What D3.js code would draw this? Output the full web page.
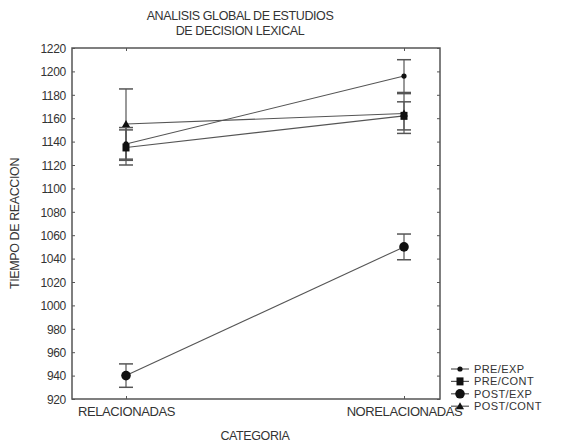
<!DOCTYPE html>
<html><head><meta charset="utf-8">
<script src="https://cdn.jsdelivr.net/npm/d3@7"></script>
<style>body{margin:0;background:#fff}</style>
</head><body>
<script>
const categories = ["RELACIONADAS", "NORELACIONADAS"];
const seriesNames = ["PRE/EXP", "PRE/CONT", "POST/EXP", "POST/CONT"];
const preExp   = [1138, 1196];
const preCont  = [1135, 1162];
const postExp  = [940, 1050];
const postCont = [1155, 1164];
const preExpErr   = [14, 14];
const preContErr  = [15, 12];
const postExpErr  = [10, 11];
const postContErr = [30, 17];
const yTicks = [920,940,960,980,1000,1020,1040,1060,1080,1100,1120,1140,1160,1180,1200,1220];
const titleLines = ["ANALISIS GLOBAL DE ESTUDIOS", "DE DECISION LEXICAL"];
const xTitle = "CATEGORIA";
const yTitle = "TIEMPO DE REACCION";

const series = [
  {name: seriesNames[0], values: preExp, err: preExpErr, marker: "smallcircle"},
  {name: seriesNames[1], values: preCont, err: preContErr, marker: "square"},
  {name: seriesNames[2], values: postExp, err: postExpErr, marker: "bigcircle"},
  {name: seriesNames[3], values: postCont, err: postContErr, marker: "triangle"}
];

const W = 576, H = 446;
const m = {left: 72, right: 440, top: 48, bottom: 399};
const FONT = "'Liberation Sans', Arial, sans-serif";
const svg = d3.select("body").append("svg").attr("width", W).attr("height", H)
  .style("font-family", FONT);

const x = d3.scalePoint().domain(categories).range([126, 404]);
const y = d3.scaleLinear().domain([920, 1220]).range([m.bottom, m.top]);

const axisColor = "#555", textColor = "#333", lineColor = "#555";

// frame
svg.append("rect").attr("x", m.left).attr("y", m.top).attr("width", m.right - m.left)
  .attr("height", m.bottom - m.top).attr("fill", "none").attr("stroke", axisColor).attr("stroke-width", 1.5);

// axes
const gl = svg.append("g").attr("transform", `translate(${m.left},0)`)
  .call(d3.axisLeft(y).tickValues(yTicks).tickSize(-3).tickPadding(6).tickFormat(d3.format("d")));
const gr = svg.append("g").attr("transform", `translate(${m.right},0)`)
  .call(d3.axisRight(y).tickValues(yTicks).tickSize(-3).tickFormat(""));
const gb = svg.append("g").attr("transform", `translate(0,${m.bottom})`)
  .call(d3.axisBottom(x).tickSize(-3).tickPadding(8));
const gt = svg.append("g").attr("transform", `translate(0,${m.top})`)
  .call(d3.axisTop(x).tickSize(-3).tickFormat(""));
[gl, gr, gb, gt].forEach(g => {
  g.select(".domain").remove();
  g.selectAll(".tick line").attr("stroke", axisColor);
  g.selectAll("text").attr("fill", textColor).attr("font-family", FONT);
});
gl.selectAll("text").attr("font-size", 12).attr("letter-spacing", "-0.3px").attr("dy", "0.35em");
gb.selectAll("text").attr("font-size", 13).attr("letter-spacing", "-0.4px");

// lines
const line = d3.line().x((d, i) => x(categories[i])).y(d => y(d));
series.forEach(s => {
  svg.append("path").datum(s.values).attr("d", line)
    .attr("fill", "none").attr("stroke", lineColor).attr("stroke-width", 1.1);
});

// error bars
const capW = 7;
series.forEach(s => {
  const g = svg.append("g");
  s.values.forEach((v, i) => {
    const cx = x(categories[i]), e = s.err[i];
    g.append("line").attr("x1", cx).attr("x2", cx).attr("y1", y(v - e)).attr("y2", y(v + e))
      .attr("stroke", lineColor).attr("stroke-width", 1.2);
    [v - e, v + e].forEach(c => g.append("line").attr("x1", cx - capW).attr("x2", cx + capW)
      .attr("y1", y(c)).attr("y2", y(c)).attr("stroke", lineColor).attr("stroke-width", 1.5));
  });
});

function drawMarker(g, type, cx, cy) {
  const col = "#111";
  if (type === "smallcircle") g.append("circle").attr("cx", cx).attr("cy", cy).attr("r", 2.6).attr("fill", col);
  else if (type === "bigcircle") g.append("circle").attr("cx", cx).attr("cy", cy).attr("r", 4.8).attr("fill", col);
  else if (type === "square") g.append("rect").attr("x", cx - 3.5).attr("y", cy - 4).attr("width", 7).attr("height", 8).attr("fill", col);
  else if (type === "triangle") g.append("path").attr("d", `M${cx},${cy - 4}L${cx + 4},${cy + 3}L${cx - 4},${cy + 3}Z`).attr("fill", col);
}

series.forEach(s => {
  const g = svg.append("g");
  s.values.forEach((v, i) => drawMarker(g, s.marker, x(categories[i]), y(v)));
});

// titles
function txt(xp, yp, t, size, anchor, transform) {
  const e = svg.append("text").attr("text-anchor", anchor || "middle")
    .attr("font-size", size).attr("fill", textColor).attr("letter-spacing", "-0.4px").text(t);
  if (transform) e.attr("transform", transform); else e.attr("x", xp).attr("y", yp);
  return e;
}
txt(240, 20, titleLines[0], 12.5);
txt(240, 35, titleLines[1], 12.5);
txt(255, 440, xTitle, 12.5);
txt(0, 0, yTitle, 12.5, "middle", `translate(19,${(m.top + m.bottom) / 2}) rotate(-90)`);

// legend
const lg = svg.append("g");
series.forEach((s, i) => {
  const ly = 369 + i * 12.4;
  lg.append("line").attr("x1", 451).attr("x2", 469).attr("y1", ly).attr("y2", ly)
    .attr("stroke", lineColor).attr("stroke-width", 1.2);
  drawMarker(lg, s.marker, 460, ly);
  lg.append("text").attr("x", 474).attr("y", ly).attr("dy", "0.35em")
    .attr("font-size", 11).attr("fill", textColor).attr("letter-spacing", "0.4px").text(s.name);
});
</script>
</body></html>
